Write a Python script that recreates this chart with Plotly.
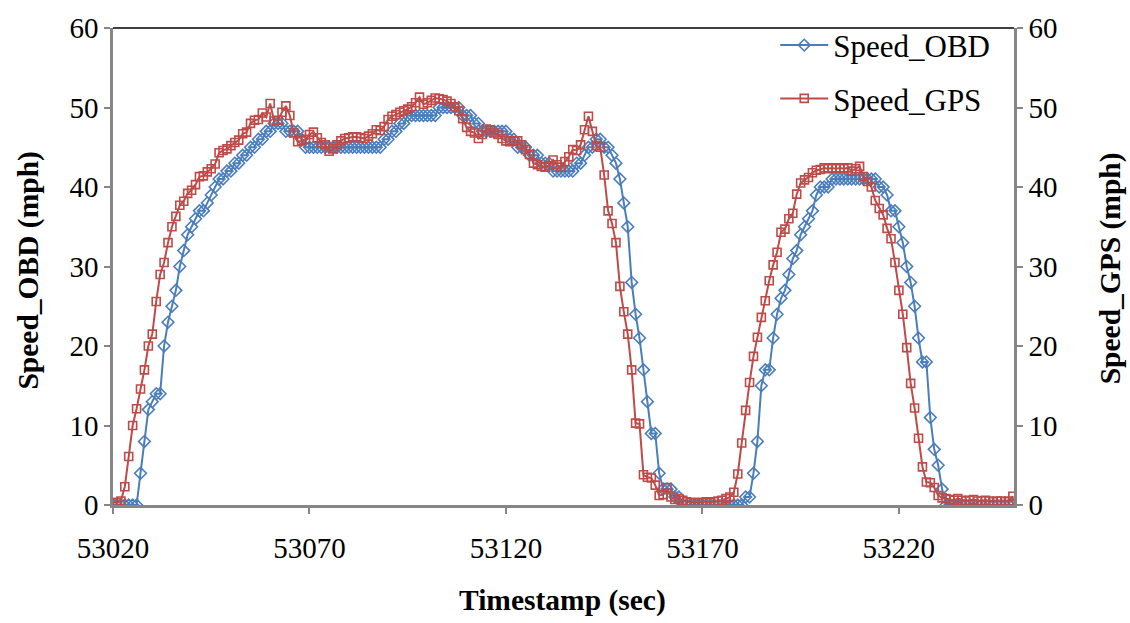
import plotly.graph_objects as go

# Timestamps (sec), one sample per second
timestamps = list(range(53020, 53250))

speed_obd = [
    0, 0, 0, 0, 0, 0, 0,
    4, 8, 12, 13, 14, 14,
    20, 23, 25, 27, 30, 32, 34, 35,
    36, 37, 37, 38, 39, 40, 41, 41, 42, 42,
    43, 43, 44, 44, 45, 45, 46, 46, 47, 47,
    48, 48, 48, 47, 47, 47, 47, 46, 45, 45,
    45, 45, 45, 45, 45, 45, 45, 45, 45, 45,
    45, 45, 45, 45, 45, 45, 45, 45, 46, 46,
    47, 47, 48, 48, 49, 49, 49, 49, 49, 49,
    49, 49, 50, 50, 50, 50, 50, 50, 49, 49,
    49, 48, 48, 47, 47, 47, 47, 47, 47, 47,
    46, 46, 45, 45, 45, 44, 44, 44, 43, 43,
    43, 42, 42, 42, 42, 42, 42, 43, 43, 44,
    45, 45, 46, 46, 45, 45, 44, 43, 41, 38,
    35, 28, 24, 21, 17, 13, 9, 9, 4, 2,
    2, 2, 1, 1, 0, 0, 0, 0, 0, 0,
    0, 0, 0, 0, 0, 0, 0, 0, 0, 0,
    1, 1, 4, 8, 15, 17, 17, 21, 24, 26,
    27, 29, 31, 32, 34, 35, 36, 37, 39, 40,
    40, 40, 41, 41, 41, 41, 41, 41, 41, 41,
    41, 41, 41, 41, 40, 40, 39, 37, 37, 35,
    33, 30, 28, 25, 21, 18, 18, 11, 7, 5,
    2, 0, 0, 0, 0, 0, 0, 0, 0, 0,
    0, 0, 0, 0, 0, 0, 0, 0, 0,
]

speed_gps = [
    0.3, 0.3, 0.5, 2.3, 6.1, 10.0, 12.1, 14.6, 17.0, 20.0,
    21.5, 25.6, 29.0, 30.5, 33.0, 35.0, 36.3, 37.7, 38.2, 39.2,
    39.6, 40.3, 41.3, 41.4, 41.9, 42.3, 42.9, 44.3, 44.6, 44.8,
    45.2, 45.6, 45.9, 46.7, 46.9, 48.0, 48.4, 48.5, 49.3, 48.8,
    50.5, 48.3, 48.4, 49.4, 50.2, 49.0, 46.8, 45.7, 45.8, 46.0,
    46.6, 46.9, 46.2, 45.6, 45.3, 44.5, 44.8, 45.3, 45.8, 46.1,
    46.2, 46.3, 46.3, 46.2, 46.1, 46.4, 46.7, 47.2, 47.1, 47.6,
    48.5, 48.9, 49.1, 49.4, 49.6, 49.8, 50.1, 50.6, 51.3, 50.4,
    50.6, 50.9, 51.2, 51.1, 51.0, 50.8, 50.5, 50.1, 49.6, 48.6,
    47.5, 47.0, 46.8, 46.1, 46.6, 47.3, 47.2, 46.8, 46.6, 46.1,
    45.8, 45.7, 45.8, 45.8, 45.3, 44.7, 44.1, 43.0, 42.8, 42.6,
    42.5, 42.7, 43.4, 42.8, 42.5, 43.2, 43.8, 44.7, 44.6, 45.3,
    47.2, 48.9, 47.0, 45.2, 45.0, 41.5, 37.0, 35.4, 33.0, 27.5,
    24.3, 21.5, 17.0, 10.3, 10.2, 3.8, 3.5, 3.4, 2.5, 1.2,
    1.3, 2.2, 1.0, 0.7, 0.8, 0.6, 0.4, 0.3, 0.3, 0.3,
    0.3, 0.4, 0.3, 0.4, 0.5, 0.6, 0.8, 1.0, 1.6, 3.9,
    7.8, 11.9, 15.4, 18.7, 21.1, 23.6, 25.7, 28.2, 30.2, 31.8,
    34.3, 34.7, 36.0, 36.7, 39.1, 40.5, 40.9, 41.2, 41.8, 42.1,
    42.2, 42.4, 42.3, 42.4, 42.3, 42.4, 42.3, 42.4, 42.0, 42.3,
    42.6, 41.3, 40.7, 40.0, 38.3, 37.3, 36.5, 34.8, 33.5, 30.5,
    27.0, 24.0, 19.8, 15.3, 12.2, 8.4, 4.8, 2.9, 2.8, 2.2,
    1.2, 0.9, 0.8, 0.7, 0.6, 0.8, 0.6, 0.5, 0.6, 0.7,
    0.5, 0.5, 0.6, 0.5, 0.4, 0.5, 0.5, 0.4, 0.5, 1.1,
]

x_ticks = [53020, 53070, 53120, 53170, 53220]
y_ticks = [0, 10, 20, 30, 40, 50, 60]

BLUE = "#4A7EBB"
RED = "#BE4B48"
AXIS_GRAY = "#868686"
FONT = "Liberation Serif"

fig = go.Figure()
fig.add_trace(go.Scatter(
    x=timestamps, y=speed_obd, name="Speed_OBD", mode="lines+markers",
    line=dict(color=BLUE, width=2),
    marker=dict(symbol="diamond-open", size=9, color=BLUE, line=dict(width=1.6, color=BLUE)),
    legendgroup="a",
))
fig.add_trace(go.Scatter(
    x=timestamps, y=speed_gps, name="Speed_GPS", mode="lines+markers", yaxis="y2",
    line=dict(color=RED, width=2),
    marker=dict(symbol="square-open", size=8, color=RED, line=dict(width=1.6, color=RED)),
    legendgroup="b",
))

axis_common = dict(
    showgrid=False, zeroline=False, showline=True, linecolor=AXIS_GRAY, linewidth=2.5,
    ticks="outside", ticklen=6, tickwidth=1.5, tickcolor=AXIS_GRAY,
    tickfont=dict(family=FONT, size=29, color="black"),
)

fig.update_layout(
    width=1130, height=623,
    margin=dict(l=113, r=116, t=17, b=118),
    paper_bgcolor="white", plot_bgcolor="white",
    xaxis=dict(range=[53020, 53249.3], tickvals=x_ticks, ticktext=[str(v) for v in x_ticks],
               ticklabelstandoff=9, **axis_common),
    yaxis=dict(range=[0, 60], tickvals=y_ticks, **axis_common),
    yaxis2=dict(range=[0, 60], tickvals=y_ticks, overlaying="y", side="right", **axis_common),
    showlegend=True,
    legend=dict(x=0.735, y=1.02, xanchor="left", yanchor="top",
                font=dict(family=FONT, size=31, color="black"),
                bgcolor="rgba(0,0,0,0)", tracegroupgap=10, traceorder="grouped",
                itemwidth=48),
    shapes=[dict(type="line", xref="paper", yref="paper", x0=0, x1=1, y0=1, y1=1,
                 line=dict(color="black", width=1.5))],
    annotations=[
        dict(text="<b>Timestamp (sec)</b>", xref="paper", yref="paper", x=0.499, y=-0.201,
             xanchor="center", yanchor="middle", showarrow=False,
             font=dict(family=FONT, size=29.5, color="black")),
        dict(text="<b>Speed_OBD (mph)</b>", xref="paper", yref="paper", x=-0.094, y=0.492,
             xanchor="center", yanchor="middle", showarrow=False, textangle=-90,
             font=dict(family=FONT, size=29.5, color="black")),
        dict(text="<b>Speed_GPS (mph)</b>", xref="paper", yref="paper", x=1.1065, y=0.496,
             xanchor="center", yanchor="middle", showarrow=False, textangle=-90,
             font=dict(family=FONT, size=29.5, color="black")),
    ],
)

fig.write_html("out.html", post_script="document.body.style.margin='0';")
